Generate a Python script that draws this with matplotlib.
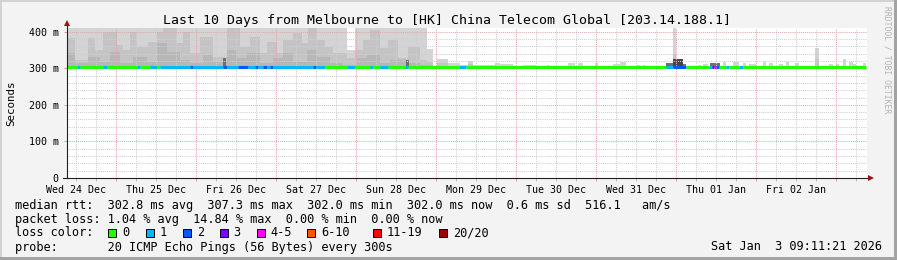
import datetime as dt

import matplotlib
matplotlib.use('Agg')
import matplotlib.dates as mdates
import matplotlib.pyplot as plt
from matplotlib.patches import Rectangle
from matplotlib.ticker import FixedFormatter, FixedLocator, MultipleLocator


W, H = 897, 260
MONO = 'DejaVu Sans Mono'

END_TIME = dt.datetime(2026, 1, 3, 9, 11, 21)
START_TIME = END_TIME - dt.timedelta(days=10)

TITLE = 'Last 10 Days from Melbourne to [HK] China Telecom Global [203.14.188.1]'
Y_LABEL = 'Seconds'
Y_TICKS = [0, 100, 200, 300, 400]
Y_TICK_LABELS = ['0', '100 m', '200 m', '300 m', '400 m']
Y_MAX = 410

# Smoke layers: (start hour, end hour, top in ms), hours counted from START_TIME.
SMOKE_OUTER = [
    (0.0, 83.9, 411), (83.9, 86.4, 350), (86.4, 108.0, 411), (108.0, 109.9, 352),
    (111.0, 114.3, 325), (114.3, 116.4, 313), (116.4, 117.9, 315), (117.9, 120.3, 310),
    (120.3, 121.8, 320), (121.8, 123.0, 310), (123.0, 128.4, 308), (128.4, 129.9, 315),
    (129.9, 133.8, 311), (133.8, 136.8, 307), (136.8, 141.0, 310), (141.0, 144.0, 307),
    (144.0, 144.9, 310), (150.3, 152.4, 314), (153.3, 154.8, 313), (158.4, 159.3, 313),
    (163.8, 165.9, 311), (165.9, 167.7, 318), (170.7, 171.9, 310), (172.8, 173.7, 310),
    (181.8, 182.7, 411), (189.3, 190.2, 309), (190.8, 192.3, 312), (196.8, 197.7, 317),
    (199.8, 201.6, 317), (202.8, 203.7, 315), (204.6, 206.7, 312), (208.8, 209.7, 317),
    (210.6, 211.8, 315), (213.6, 214.8, 311), (215.7, 216.6, 316), (218.4, 219.6, 313),
    (224.4, 225.6, 354), (228.6, 229.8, 311), (230.7, 231.6, 312), (232.8, 233.7, 326),
    (234.6, 235.8, 318), (235.8, 236.7, 312), (238.8, 239.7, 313),
]
SMOKE_MIDDLE = [
    (0.0, 2.4, 382), (2.4, 6.4, 323), (6.4, 8.4, 382), (8.4, 10.9, 350),
    (10.9, 14.9, 400), (14.9, 16.9, 364), (16.9, 18.9, 350), (18.9, 20.9, 400),
    (20.9, 24.4, 359), (24.4, 26.9, 373), (26.9, 28.9, 400), (28.9, 32.9, 411),
    (32.9, 34.9, 368), (34.9, 36.9, 400), (36.9, 39.9, 341), (39.9, 43.9, 386),
    (43.9, 47.9, 332), (47.9, 51.9, 411), (51.9, 54.9, 359), (54.9, 57.9, 386),
    (57.9, 59.9, 341), (59.9, 62.9, 373), (62.9, 64.9, 341), (64.9, 67.9, 377),
    (67.9, 70.4, 395), (70.4, 72.4, 368), (72.4, 74.9, 411), (74.9, 77.4, 377),
    (77.4, 79.9, 359), (79.9, 83.9, 341), (83.9, 86.4, 327), (86.4, 88.9, 350),
    (88.9, 90.9, 377), (90.9, 93.9, 405), (93.9, 96.4, 355), (96.4, 99.4, 377),
    (99.4, 102.4, 327), (102.4, 105.9, 359), (105.9, 107.9, 323), (107.9, 109.9, 318),
    (111.0, 114.3, 315), (120.3, 121.8, 312), (181.8, 182.7, 340), (224.4, 225.6, 325),
]
SMOKE_INNER = [
    (0.0, 2.4, 341), (2.4, 6.4, 314), (6.4, 9.9, 332), (9.9, 12.9, 318),
    (12.9, 15.9, 345), (15.9, 19.9, 314), (19.9, 23.9, 332), (23.9, 26.9, 318),
    (26.9, 29.9, 368), (29.9, 33.9, 345), (33.9, 36.9, 323), (36.9, 40.9, 314),
    (40.9, 43.9, 336), (43.9, 47.9, 318), (47.9, 50.9, 350), (50.9, 53.9, 327),
    (53.9, 57.9, 341), (57.9, 61.9, 314), (61.9, 64.9, 327), (64.9, 67.9, 341),
    (67.9, 71.9, 318), (71.9, 74.9, 350), (74.9, 78.9, 332), (78.9, 82.9, 314),
    (82.9, 86.9, 309), (86.9, 89.9, 327), (89.9, 93.9, 336), (93.9, 96.9, 314),
    (96.9, 101.9, 323), (101.9, 105.9, 314), (105.9, 109.9, 309),
]
SMOKE_DARK = [
    (46.8, 47.7, 327), (101.7, 102.6, 323), (179.7, 181.8, 313),
    (184.8, 185.7, 311), (192.9, 195.9, 313),
]
SMOKE_DARKEST = [(181.8, 184.8, 324)]

MEDIAN_RTT = 302.8
# Median line pieces: (start hour, end hour, loss class index)
LOSS_SEGMENTS = [
    (0.0, 2.9, 0), (2.9, 3.9, 1), (3.9, 10.9, 0), (10.9, 11.9, 1), (11.9, 20.9, 0),
    (20.9, 21.9, 1), (21.9, 24.9, 0), (24.9, 26.9, 1), (26.9, 27.9, 0), (27.9, 36.9, 1),
    (36.9, 37.9, 2), (37.9, 46.9, 1), (46.9, 47.9, 2), (47.9, 51.4, 1), (51.4, 54.4, 2),
    (54.4, 56.4, 1), (56.4, 57.4, 2), (57.4, 58.9, 1), (58.9, 59.9, 2), (59.9, 60.9, 1),
    (60.9, 61.9, 2), (61.9, 73.9, 1), (73.9, 74.7, 2), (74.7, 77.4, 1), (77.4, 83.9, 0),
    (83.9, 86.4, 1), (86.4, 90.9, 0), (90.9, 91.9, 1), (91.9, 93.9, 0), (93.9, 96.4, 1),
    (96.4, 101.4, 0), (101.4, 102.4, 1), (102.4, 117.6, 0), (117.6, 119.7, 1),
    (119.7, 179.7, 0), (179.7, 181.8, 1), (181.8, 185.7, 2), (185.7, 192.6, 0),
    (192.6, 193.5, 1), (193.5, 194.1, 3), (194.1, 194.7, 4), (194.7, 195.6, 2),
    (195.6, 197.7, 0), (197.7, 198.6, 1), (198.6, 201.6, 0), (201.6, 202.8, 1),
    (202.8, 239.7, 0),
]

LOSS_LABELS = ['0', '1', '2', '3', '4-5', '6-10', '11-19', '20/20']
LOSS_COLORS = ['#26ff00', '#00b8ff', '#0059ff', '#7e00ff',
               '#ff00ff', '#ff5500', '#ff0000', '#a10000']

RTT_LINE = 'median rtt:  302.8 ms avg  307.3 ms max  302.0 ms min  302.0 ms now  0.6 ms sd  516.1   am/s'
LOSS_LINE = 'packet loss: 1.04 % avg  14.84 % max  0.00 % min  0.00 % now'
PROBE_LINE = 'probe:       20 ICMP Echo Pings (56 Bytes) every 300s'
STAMP = 'Sat Jan  3 09:11:21 2026'

START_NUM = mdates.date2num(START_TIME)
END_NUM = mdates.date2num(END_TIME)

GRID_MAJOR = '#e8a6a6'
GRID_MINOR = '#cfcfcf'
DOTS = (0, (1, 1))


def hx(h):
    return START_NUM + h / 24.0


def fx(x):
    return x / W


def fy(y):
    return 1 - y / H


def draw_smoke(ax, segments, color):
    lefts = [hx(s) for s, e, top in segments]
    widths = [(e - s) / 24.0 for s, e, top in segments]
    heights = [top - 300 for s, e, top in segments]
    ax.bar(lefts, heights, width=widths, bottom=300, align='edge',
           color=color, linewidth=0, zorder=1)


fig = plt.figure(figsize=(W / 100, H / 100), dpi=100, facecolor='#f3f3f3')
ax = fig.add_axes([fx(67), fy(178), 800 / W, 150 / H])
ax.set_facecolor('white')

draw_smoke(ax, SMOKE_OUTER, '#d4d4d4')
draw_smoke(ax, SMOKE_MIDDLE, '#c4c4c4')
draw_smoke(ax, SMOKE_INNER, '#b7b7b7')
draw_smoke(ax, SMOKE_DARK, '#707070')
draw_smoke(ax, SMOKE_DARKEST, '#454545')

for s, e, loss in LOSS_SEGMENTS:
    ax.plot([hx(s), hx(e)], [MEDIAN_RTT, MEDIAN_RTT], color=LOSS_COLORS[loss],
            lw=2.2, solid_capstyle='butt', zorder=3)

ax.set_xlim(START_NUM, END_NUM)
ax.set_ylim(0, Y_MAX)

# time grid: midnight red, every 6 hours grey, labels at noon
midnights = [mdates.date2num(dt.datetime(2025, 12, 25) + dt.timedelta(days=k))
             for k in range(10)]
quarters = []
quarter_labels = []
t = dt.datetime(2025, 12, 24, 12)
while t < END_TIME:
    if t.hour != 0:
        quarters.append(mdates.date2num(t))
        quarter_labels.append(t.strftime('%a %d %b') if t.hour == 12 else '')
    t += dt.timedelta(hours=6)

ax.xaxis.set_major_locator(FixedLocator(midnights))
ax.xaxis.set_minor_locator(FixedLocator(quarters))
ax.xaxis.set_minor_formatter(FixedFormatter(quarter_labels))
ax.set_yticks(Y_TICKS)
ax.set_yticklabels(Y_TICK_LABELS)
ax.yaxis.set_minor_locator(MultipleLocator(20))

for xv in quarters:
    ax.axvline(xv, color=GRID_MINOR, lw=0.75, ls=DOTS, zorder=2.4)
for yv in range(20, Y_MAX, 20):
    if yv % 100:
        ax.axhline(yv, color=GRID_MINOR, lw=0.75, ls=DOTS, zorder=2.4)
for xv in midnights:
    ax.axvline(xv, color=GRID_MAJOR, lw=0.75, ls=DOTS, zorder=2.5)
for yv in Y_TICKS[1:]:
    ax.axhline(yv, color=GRID_MAJOR, lw=0.75, ls=DOTS, zorder=2.5)

ax.tick_params(axis='x', which='major', length=2.5, width=0.72, color='#e09a9a',
               labelbottom=False)
ax.tick_params(axis='x', which='minor', length=2.5, width=0.72, color='#bdbdbd',
               labelsize=7.2, pad=2.5)
ax.tick_params(axis='y', which='major', length=2.5, width=0.72, color='#e09a9a',
               labelsize=7.2, pad=3.5)
ax.tick_params(axis='y', which='minor', length=0)
for label in ax.get_xticklabels(minor=True) + ax.get_yticklabels():
    label.set_fontfamily(MONO)

for spine in ax.spines.values():
    spine.set_visible(False)

# axis lines with arrows
ax.plot([0, 0], [0, 1.025], color='#202020', lw=0.8, transform=ax.transAxes,
        clip_on=False, zorder=4)
ax.plot([-0.005, 1.002], [0, 0], color='#202020', lw=0.8, transform=ax.transAxes,
        clip_on=False, zorder=4)
ax.plot([0], [1.033], marker='^', ms=4.2, color='#a01010', mew=0,
        transform=ax.transAxes, clip_on=False, zorder=5)
ax.plot([1.0048], [0], marker='>', ms=4.2, color='#a01010', mew=0,
        transform=ax.transAxes, clip_on=False, zorder=5)

# titles and side texts
fig.text(fx(447), fy(24), TITLE, ha='center', va='baseline', size=9.5, family=MONO)
fig.text(fx(11), fy(103), Y_LABEL, rotation=90, ha='center', va='center',
         size=7.8, family=MONO)
fig.text(fx(887), fy(60), 'RRDTOOL / TOBI OETIKER', rotation=270, ha='center',
         va='center', size=5.8, family=MONO, color='#b4b4b4')

# legend / statistics
fig.text(fx(14.5), fy(208.5), RTT_LINE, ha='left', va='baseline', size=8.55, family=MONO)
fig.text(fx(14.5), fy(222.5), LOSS_LINE, ha='left', va='baseline', size=8.55, family=MONO)
fig.text(fx(14.5), fy(236.5), 'loss color:', ha='left', va='baseline', size=8.55, family=MONO)
box_x = [108.3, 145.7, 182.7, 219.7, 256.7, 307.3, 372.7, 438.7]
for bx, color, label in zip(box_x, LOSS_COLORS, LOSS_LABELS):
    fig.add_artist(Rectangle((fx(bx), fy(236.5)), 8 / W, 8 / H, transform=fig.transFigure,
                             facecolor=color, edgecolor='black', lw=0.7))
    fig.text(fx(bx + 14), fy(236.5), label, ha='left', va='baseline', size=8.55, family=MONO)
fig.text(fx(14.5), fy(250.5), PROBE_LINE, ha='left', va='baseline', size=8.55, family=MONO)
fig.text(fx(882), fy(250.5), STAMP, ha='right', va='baseline', size=8.55, family=MONO)

# 3d frame around the image
frame = [
    ((0, 0), 2 / W, 1, '#d2d2d2'),
    ((0, 1 - 2 / H), 1, 2 / H, '#d2d2d2'),
    ((1 - 3 / W, 0), 3 / W, 1, '#a3a3a3'),
    ((0, 0), 1, 3 / H, '#a3a3a3'),
]
for xy, w, h, color in frame:
    fig.add_artist(Rectangle(xy, w, h, transform=fig.transFigure, color=color, lw=0))

fig.savefig('out.png', dpi=100, facecolor=fig.get_facecolor())
